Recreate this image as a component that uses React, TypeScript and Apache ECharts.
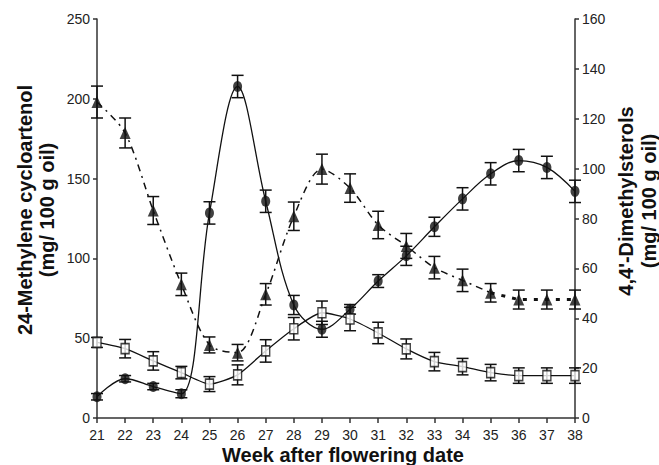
import React, { useEffect, useRef } from "react";
import * as echarts from "echarts";

const weeks = [21, 22, 23, 24, 25, 26, 27, 28, 29, 30, 31, 32, 33, 34, 35, 36, 37, 38];
// 24-Methylene cycloartenol (left axis, filled circles)
const cycloartenol = [13.3, 24.6, 19.7, 15.2, 128.5, 207.7, 135.8, 70.8, 55.6, 68.1, 85.8, 101.6, 119.8, 137.3, 153, 161.3, 157, 142];
const cycloartenolErr = [2, 2, 2, 2.5, 7, 7, 7, 6, 5, 3, 4, 6, 6, 7, 7, 7, 7, 7];
// 4,4'-Dimethylsterols (right axis, filled triangles)
const dimethyl = [126.7, 114.3, 83.2, 53.6, 29.3, 26.2, 49.6, 80.9, 99.8, 92.2, 77.4, 69, 60.3, 55.2, 50.2, 47.5, 47.5, 47.5];
const dimethylErr = [6.4, 6, 5.6, 4.5, 3.2, 3.3, 4.3, 5.7, 6, 5.7, 5.5, 5, 4.5, 4.5, 3.7, 3.8, 3.8, 3.8];
// second sterol fraction (right axis, open squares)
const squares = [30.3, 27.8, 22.9, 18.2, 13.6, 17.3, 26.9, 35.8, 42.2, 39.7, 34.1, 27.7, 22.6, 20.6, 18.2, 17, 17, 17];
const squaresErr = [2, 3.7, 3.7, 2.5, 3, 4, 4.5, 4.5, 4.7, 4.7, 4.3, 4, 3.7, 3.3, 3.3, 3.1, 3.1, 3.1];

const leftTicks = { min: 0, max: 250, interval: 50 };
const rightTicks = { min: 0, max: 160, interval: 20 };
const xTicks = { min: 21, max: 38, interval: 1 };

const FONT = "Liberation Sans, Arial, sans-serif";

function pairs(vals: number[]) {
  return weeks.map((w, i) => [w, vals[i]]);
}
function errs(vals: number[], e: number[]) {
  return weeks.map((w, i) => [w, vals[i] - e[i], vals[i] + e[i]]);
}
function partial(vals: number[], from: number, to: number) {
  return weeks.map((w, i) => (w >= from && w <= to ? [w, vals[i]] : [w, null]));
}

function errorBars(data: number[][], yAxisIndex: number) {
  return {
    type: "custom",
    yAxisIndex,
    data,
    encode: { x: 0, y: [1, 2] },
    z: 3,
    silent: true,
    renderItem: (params: any, api: any) => {
      const x = api.value(0);
      const lo = api.coord([x, api.value(1)]);
      const hi = api.coord([x, api.value(2)]);
      const hw = 6;
      const style = { stroke: "#111", lineWidth: 1.5 };
      return {
        type: "group",
        children: [
          { type: "line", shape: { x1: lo[0], y1: lo[1], x2: hi[0], y2: hi[1] }, style },
          { type: "line", shape: { x1: lo[0] - hw, y1: lo[1], x2: lo[0] + hw, y2: lo[1] }, style },
          { type: "line", shape: { x1: hi[0] - hw, y1: hi[1], x2: hi[0] + hw, y2: hi[1] }, style },
        ],
      };
    },
  };
}

export default function App() {
  const ref = useRef<HTMLDivElement>(null);
  useEffect(() => {
    if (!ref.current) return;
    const chart = echarts.init(ref.current, null, { renderer: "svg" });
    const axisLine = { show: true, lineStyle: { color: "#333", width: 1.5 } };
    const axisTick = { show: true, length: 4, inside: false, lineStyle: { color: "#333", width: 1.5 } };
    const axisLabel = { fontFamily: FONT, fontSize: 14, color: "#222", margin: 7 };
    chart.setOption({
      animation: false,
      backgroundColor: "#fff",
      grid: { left: 97, right: 84, top: 19, bottom: 47, containLabel: false },
      xAxis: {
        type: "value",
        ...xTicks,
        axisLine,
        axisTick: { ...axisTick, length: 5 },
        axisLabel: { ...axisLabel, margin: 10 },
        splitLine: { show: false },
      },
      yAxis: [
        {
          type: "value",
          position: "left",
          ...leftTicks,
          axisLine,
          axisTick,
          axisLabel,
          splitLine: { show: false },
        },
        {
          type: "value",
          position: "right",
          ...rightTicks,
          axisLine,
          axisTick,
          axisLabel,
          splitLine: { show: false },
        },
      ],
      graphic: [
        {
          type: "text",
          x: 36,
          y: 210,
          rotation: Math.PI / 2,
          style: {
            text: "24-Methylene cycloartenol\n(mg/ 100 g oil)",
            font: "bold 20px " + FONT,
            fill: "#111",
            align: "center",
            verticalAlign: "middle",
            lineHeight: 22,
          },
        },
        {
          type: "text",
          x: 637,
          y: 201,
          rotation: Math.PI / 2,
          style: {
            text: "4,4'-Dimethylsterols\n(mg/ 100 g oil)",
            font: "bold 20px " + FONT,
            fill: "#111",
            align: "center",
            verticalAlign: "middle",
            lineHeight: 23,
          },
        },
        {
          type: "text",
          x: 343,
          y: 455,
          style: {
            text: "Week after flowering date",
            font: "bold 20px " + FONT,
            fill: "#111",
            align: "center",
            verticalAlign: "middle",
          },
        },
      ],
      series: [
        {
          type: "line",
          yAxisIndex: 0,
          data: pairs(cycloartenol),
          smooth: 0.35,
          showSymbol: false,
          lineStyle: { color: "#111", width: 1.3 },
          z: 2,
          silent: true,
        },
        {
          type: "line",
          yAxisIndex: 1,
          data: pairs(squares),
          smooth: 0.2,
          showSymbol: false,
          lineStyle: { color: "#111", width: 1.3 },
          z: 2,
          silent: true,
        },
        {
          type: "line",
          yAxisIndex: 1,
          data: partial(dimethyl, 21, 35),
          smooth: 0.3,
          connectNulls: false,
          showSymbol: false,
          lineStyle: { color: "#111", width: 1.5, type: [7, 5, 2, 5] },
          z: 2,
          silent: true,
        },
        {
          type: "line",
          yAxisIndex: 1,
          data: partial(dimethyl, 35, 38),
          showSymbol: false,
          lineStyle: { color: "#111", width: 3, type: [4, 7] },
          z: 2,
          silent: true,
        },
        errorBars(errs(cycloartenol, cycloartenolErr), 0),
        errorBars(errs(dimethyl, dimethylErr), 1),
        errorBars(errs(squares, squaresErr), 1),
        {
          type: "scatter",
          yAxisIndex: 0,
          data: pairs(cycloartenol),
          symbol: "circle",
          symbolSize: [9, 11],
          itemStyle: { color: "#111" },
          z: 5,
        },
        {
          type: "scatter",
          yAxisIndex: 1,
          data: pairs(dimethyl),
          symbol: "triangle",
          symbolSize: [11, 12],
          itemStyle: { color: "#111" },
          z: 5,
        },
        {
          type: "scatter",
          yAxisIndex: 1,
          data: pairs(squares),
          symbol: "rect",
          symbolSize: [8, 10],
          itemStyle: { color: "#fff", borderColor: "#111", borderWidth: 1.5 },
          z: 5,
        },
      ],
    });
    return () => chart.dispose();
  }, []);
  return (
    <div
      ref={ref}
      style={{ position: "fixed", left: 0, top: 0, width: 659, height: 465, background: "#fff" }}
    />
  );
}
